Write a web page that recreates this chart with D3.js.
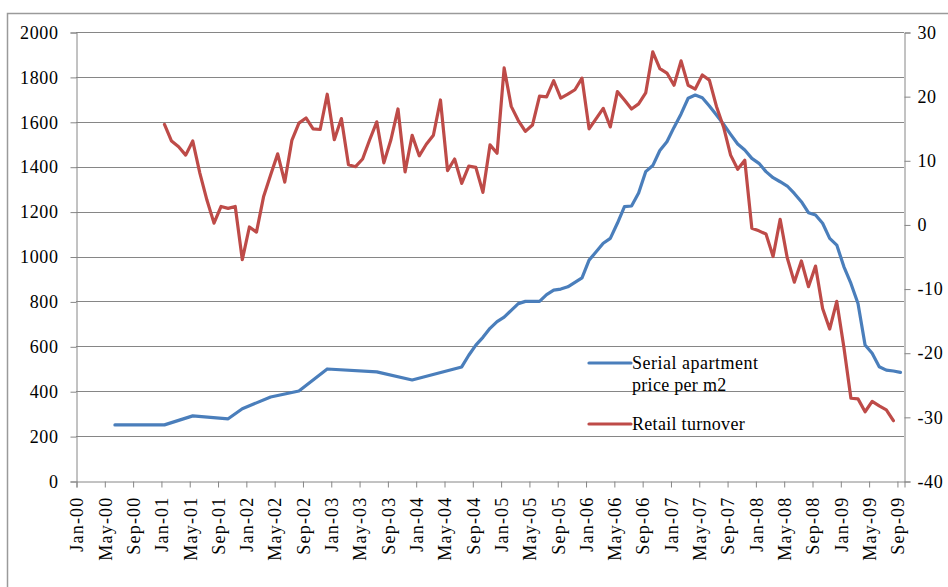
<!DOCTYPE html>
<html>
<head>
<meta charset="utf-8">
<script src="https://cdn.jsdelivr.net/npm/d3@7"></script>
<style>
  html, body { margin: 0; padding: 0; background: #fff; }
  svg { display: block; }
  text { font-family: "Liberation Serif", "Times New Roman", serif; fill: #000; }
</style>
</head>
<body>
<svg id="chart" width="948" height="587"></svg>
<script>
// ---- Data ----
// x positions are month indices counted from Jan-2000 (0 = Jan-00)
const tickLabels = ["Jan-00","May-00","Sep-00","Jan-01","May-01","Sep-01","Jan-02","May-02","Sep-02",
  "Jan-03","May-03","Sep-03","Jan-04","May-04","Sep-04","Jan-05","May-05","Sep-05","Jan-06","May-06",
  "Sep-06","Jan-07","May-07","Sep-07","Jan-08","May-08","Sep-08","Jan-09","May-09","Sep-09"];
const tickMonths = [0,4,8,12,16,20,24,28,32,36,40,44,48,52,56,60,64,68,72,76,80,84,88,92,96,100,104,108,112,116];
const monthCount = 117; // Jan-00 .. Sep-09

// Serial apartment price per m2 (left axis)
const priceMonths = [5,12,16,21,23,27,31,35,42,47,54,
  55,56,57,58,59,60,61,62,63,64,65,66,67,68,69,70,71,72,73,74,75,76,77,78,79,80,81,82,83,84,85,86,87,88,89,
  90,91,92,93,94,95,96,97,98,99,100,101,102,103,104,105,106,107,108,109,110,111,112,113,114,115,116];
const priceValues = [250,250,290,277,322,374,401,499,486,450,508,
  560,605,640,680,710,730,760,790,800,800,800,830,850,855,865,885,905,984,1021,1059,1081,1148,1222,1225,1283,1378,1405,1472,1511,1575,1635,1705,1719,1707,1670,
  1630,1589,1544,1501,1474,1437,1415,1378,1351,1333,1314,1281,1244,1195,1185,1148,1081,1051,955,880,791,606,569,509,494,490,484];

// Retail turnover (right axis), monthly from Jan-01 (month 12)
const retailStart = 12;
const retailValues = [15.6,13.0,12.1,10.8,13.0,8.0,3.8,0.2,2.8,2.5,2.8,-5.5,
  -0.4,-1.2,4.3,7.7,11.0,6.6,13.1,15.8,16.6,14.9,14.8,20.3,
  13.2,16.5,9.3,9.0,10.2,13.2,16.0,9.6,13.2,18.0,8.2,13.9,
  10.7,12.5,13.9,19.4,8.4,10.2,6.4,9.1,8.9,5.0,12.4,11.1,
  24.4,18.4,16.2,14.5,15.5,20.0,19.9,22.4,19.7,20.3,21.0,22.8,
  14.9,16.5,18.1,15.2,20.7,19.4,18.0,18.8,20.5,26.9,24.3,23.6,
  21.7,25.5,21.7,21.1,23.3,22.5,18.4,15.2,10.8,8.6,10.0,-0.6,
  -1.0,-1.5,-5.0,0.8,-5.2,-9.0,-5.7,-9.7,-6.5,-13.1,-16.3,-12.0,
  -19.1,-27.1,-27.2,-29.2,-27.6,-28.3,-28.9,-30.6];

const leftTicks = [0,200,400,600,800,1000,1200,1400,1600,1800,2000];
const rightTicks = [-40,-30,-20,-10,0,10,20,30];

const seriesNames = ["Serial apartment", "price per m2", "Retail turnover"];
const colors = { price: "#4A7EBB", retail: "#BE4B48", grid: "#868686" };

// ---- Layout ----
const svg = d3.select("#chart");
const plot = { left: 76, right: 904, top: 32, bottom: 481 };

const x = d3.scaleLinear().domain([0, monthCount]).range([plot.left, plot.right]);
const yL = d3.scaleLinear().domain([0, 2000]).range([plot.bottom, plot.top]);
const yR = d3.scaleLinear().domain([-40, 30]).range([plot.bottom, plot.top]);
const fmt = d => String(d); // plain hyphen-minus like the original

// outer frame
svg.append("rect").attr("x", 7.5).attr("y", 13.5).attr("width", 1000).attr("height", 1000)
  .attr("fill", "none").attr("stroke", "#9a9a9a").attr("stroke-width", 1.5);

// gridlines
svg.append("g").selectAll("line").data(leftTicks.filter(d => d > 0)).join("line")
  .attr("x1", plot.left).attr("x2", plot.right)
  .attr("y1", d => Math.round(yL(d)) + 0.5).attr("y2", d => Math.round(yL(d)) + 0.5)
  .attr("stroke", colors.grid).attr("stroke-width", 1);

// left axis
const gL = svg.append("g").attr("transform", `translate(${plot.left + 0.5},0.5)`)
  .call(d3.axisLeft(yL).tickValues(leftTicks).tickSize(6).tickPadding(12).tickFormat(fmt));
// right axis
const gR = svg.append("g").attr("transform", `translate(${plot.right + 0.5},0.5)`)
  .call(d3.axisRight(yR).tickValues(rightTicks).tickSize(6).tickPadding(7).tickFormat(fmt));
// bottom axis
const gB = svg.append("g").attr("transform", `translate(0.5,${plot.bottom + 0.5})`)
  .call(d3.axisBottom(x).tickValues(tickMonths).tickSize(6).tickFormat((d, i) => tickLabels[i]));

[gL, gR, gB].forEach(g => {
  g.select(".domain").attr("stroke", colors.grid).attr("stroke-width", 1);
  g.selectAll(".tick line").attr("stroke", colors.grid);
  g.selectAll("text").attr("font-size", 18).attr("font-family", "Liberation Serif")
    .attr("letter-spacing", "0.6px");
});
gB.selectAll("text")
  .attr("transform", "rotate(-90)")
  .attr("text-anchor", "end")
  .attr("letter-spacing", "1.2px")
  .attr("x", -15).attr("y", 0).attr("dy", "0.35em");

// lines
const priceData = priceMonths.map((m, i) => ({ m, v: priceValues[i] }));
const retailData = retailValues.map((v, i) => ({ m: retailStart + i, v }));

const linePrice = d3.line().x(d => x(d.m + 0.5)).y(d => yL(d.v));
const lineRetail = d3.line().x(d => x(d.m + 0.5)).y(d => yR(d.v));

svg.append("path").datum(priceData).attr("d", linePrice)
  .attr("fill", "none").attr("stroke", colors.price).attr("stroke-width", 3.2)
  .attr("stroke-linejoin", "round").attr("stroke-linecap", "round");
svg.append("path").datum(retailData).attr("d", lineRetail)
  .attr("fill", "none").attr("stroke", colors.retail).attr("stroke-width", 3.2)
  .attr("stroke-linejoin", "round").attr("stroke-linecap", "round");

// legend
const lg = svg.append("g");
lg.append("line").attr("x1", 589).attr("x2", 631).attr("y1", 363).attr("y2", 363)
  .attr("stroke", colors.price).attr("stroke-width", 3.2).attr("stroke-linecap", "round");
lg.append("text").attr("x", 632).attr("y", 369).attr("font-size", 18).attr("letter-spacing", "0.5px").text(seriesNames[0]);
lg.append("text").attr("x", 632).attr("y", 391).attr("font-size", 18).attr("letter-spacing", "0.3px").text(seriesNames[1]);
lg.append("line").attr("x1", 589).attr("x2", 631).attr("y1", 424).attr("y2", 424)
  .attr("stroke", colors.retail).attr("stroke-width", 3.2).attr("stroke-linecap", "round");
lg.append("text").attr("x", 632).attr("y", 430).attr("font-size", 18).attr("letter-spacing", "0.3px").text(seriesNames[2]);
</script>
</body>
</html>
